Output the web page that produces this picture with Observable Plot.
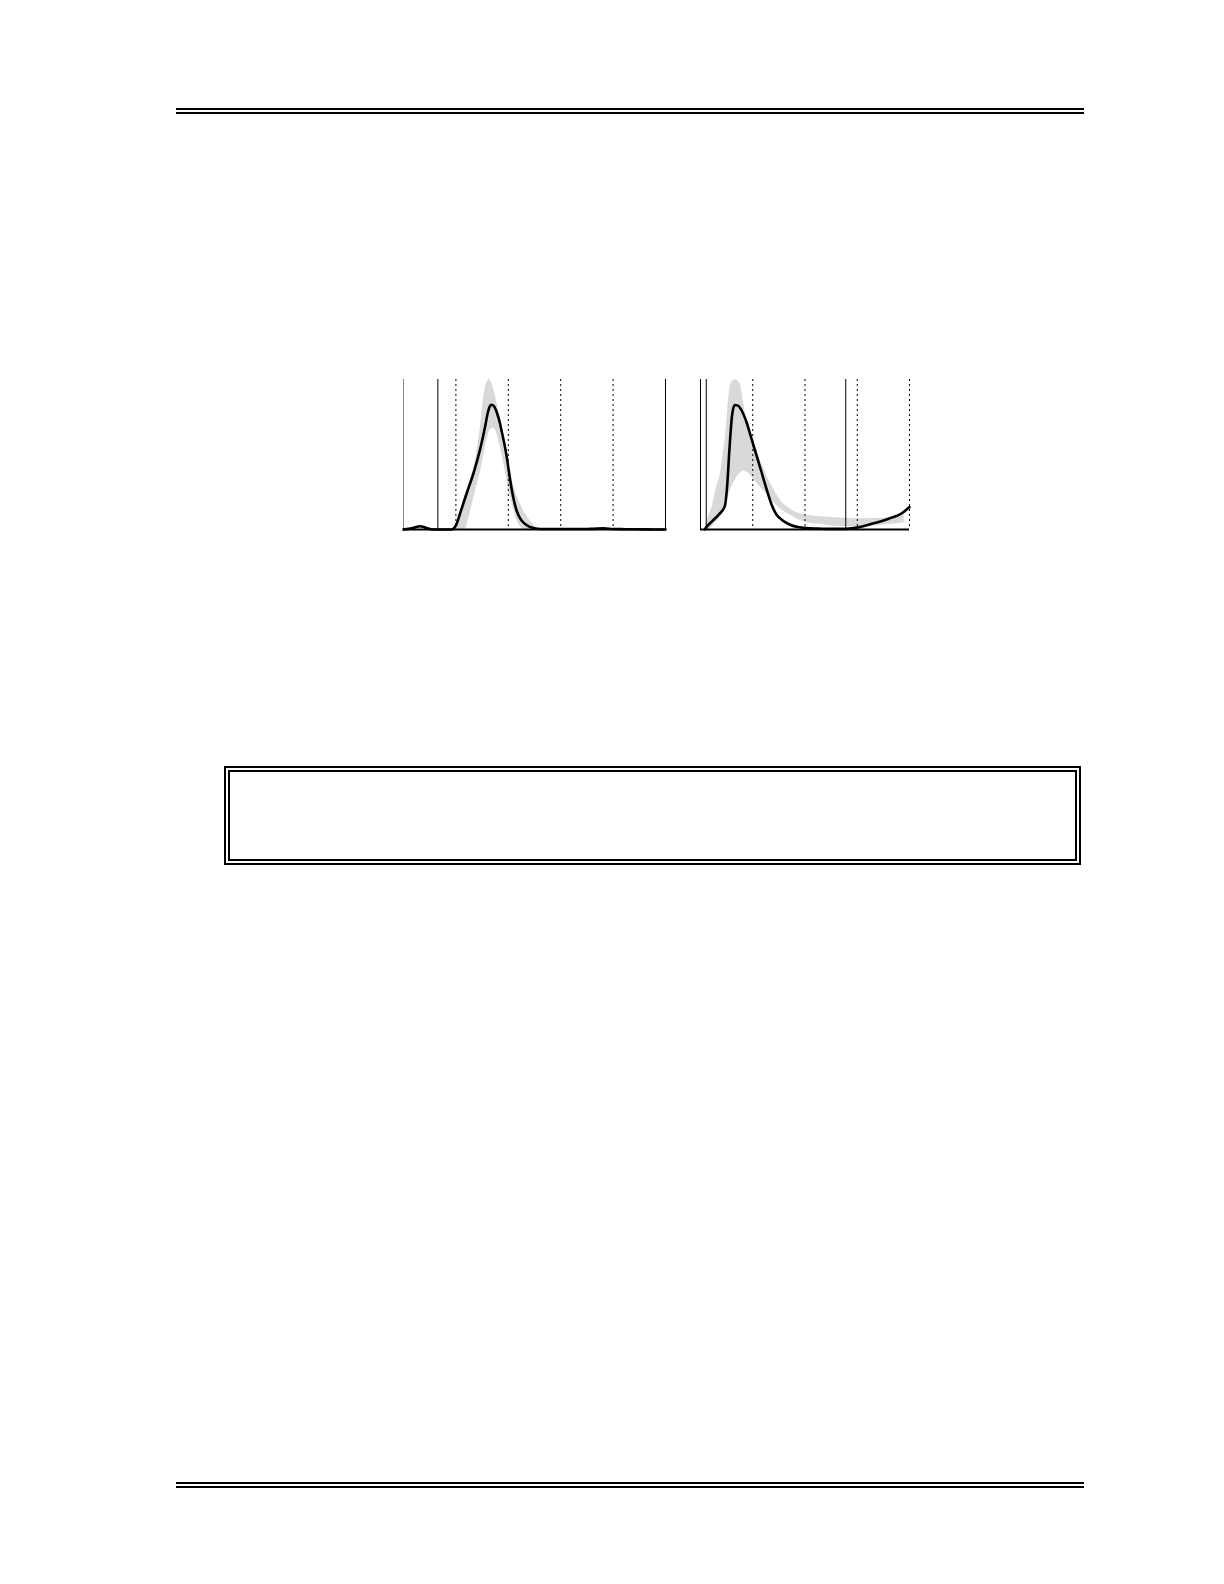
<!DOCTYPE html>
<html>
<head>
<meta charset="utf-8">
<script src="https://cdn.jsdelivr.net/npm/d3@7"></script>
<script src="https://cdn.jsdelivr.net/npm/@observablehq/plot@0.6"></script>
<style>
  html, body { margin: 0; padding: 0; background: #fff; }
  #page { position: relative; width: 1224px; height: 1584px; background: #fff; overflow: hidden; }
  .rule2 { position: absolute; left: 176px; width: 908px; height: 2px; box-sizing: content-box;
           border-top: 2px solid #000; border-bottom: 2px solid #000; }
  #box { position: absolute; left: 224px; top: 766px; width: 857px; height: 99px;
         box-sizing: border-box; border: 6px double #000; }
  .chart { position: absolute; }
</style>
</head>
<body>
<div id="page">
  <div class="rule2" style="top:108px"></div>
  <div id="chart1" class="chart" style="left:393px; top:373.5px"></div>
  <div id="chart2" class="chart" style="left:690px; top:373.5px"></div>
  <div id="box"></div>
  <div class="rule2" style="top:1482px"></div>
</div>
<script>
// ---------- Chart 1 (left panel) ----------
const c1LineX = [0, 5, 10, 16, 21, 26, 35, 45, 47, 50, 54.4, 60.7, 67, 73.3, 78, 80.5, 82, 83.5, 85.5, 88, 90, 92, 94, 96, 98, 100, 102, 104, 106, 108, 111, 115, 120, 126, 135, 160, 179, 191, 200, 211, 230, 250];
const c1LineY = [0, 0.004, 0.012, 0.022, 0.012, 0.002, 0, 0, 0.002, 0.027, 0.116, 0.25, 0.38, 0.54, 0.69, 0.78, 0.815, 0.832, 0.828, 0.80, 0.76, 0.71, 0.645, 0.58, 0.505, 0.415, 0.32, 0.24, 0.175, 0.125, 0.078, 0.042, 0.019, 0.007, 0.003, 0.003, 0.004, 0.008, 0.003, 0.002, 0.001, 0];
const c1BandX  = [46, 50, 55, 59, 61, 64, 67, 70, 73, 76, 79, 82, 85, 88, 91, 94, 97, 100, 103, 106, 109, 112, 115, 119, 123, 127, 130];
const c1BandLo = [0, 0, 0, 0, 0.04, 0.12, 0.21, 0.29, 0.37, 0.47, 0.58, 0.65, 0.675, 0.66, 0.59, 0.50, 0.39, 0.28, 0.19, 0.11, 0.05, 0.015, 0, 0, 0, 0, 0];
const c1BandHi = [0, 0.04, 0.13, 0.23, 0.27, 0.33, 0.40, 0.52, 0.66, 0.85, 0.97, 1.0, 0.96, 0.88, 0.78, 0.66, 0.55, 0.45, 0.35, 0.27, 0.21, 0.16, 0.12, 0.075, 0.04, 0.012, 0];
const c1Dotted = [50, 100, 150, 200];
const c1Solid  = [32.8, 250];
const c1Axis   = [0];
const c1Domain = [0, 250];

// ---------- Chart 2 (right panel) ----------
const c2LineX = [4, 5, 11.3, 17.6, 23.3, 25.5, 27.7, 30.2, 32.7, 35.8, 39.6, 44.3, 49, 53.8, 58.5, 63.2, 68, 72.6, 77.4, 85.2, 93, 101, 113, 125, 138, 148, 164, 180, 192, 200];
const c2LineY = [0, 0.01, 0.056, 0.10, 0.156, 0.29, 0.536, 0.76, 0.83, 0.826, 0.79, 0.71, 0.60, 0.49, 0.38, 0.27, 0.167, 0.10, 0.067, 0.033, 0.016, 0.009, 0.006, 0.004, 0.004, 0.011, 0.038, 0.072, 0.105, 0.15];
const c2BandX  = [4, 5, 8, 11.3, 15, 19.2, 22, 24, 26.4, 28.6, 31, 33.3, 36, 38, 41.2, 43.4, 46, 49, 55, 62, 70, 77, 85, 93, 102, 115, 130, 145, 160, 175, 190, 195];
const c2BandLo = [0, 0, 0, 0.02, 0.05, 0.08, 0.12, 0.15, 0.21, 0.26, 0.30, 0.33, 0.36, 0.375, 0.39, 0.385, 0.375, 0.35, 0.30, 0.246, 0.18, 0.134, 0.10, 0.067, 0.045, 0.035, 0.022, 0.02, 0.022, 0.03, 0.04, 0.045];
const c2BandHi = [0, 0.022, 0.09, 0.156, 0.27, 0.38, 0.52, 0.62, 0.826, 0.96, 0.99, 1.0, 0.99, 0.97, 0.85, 0.76, 0.70, 0.63, 0.50, 0.38, 0.27, 0.19, 0.14, 0.11, 0.095, 0.085, 0.078, 0.072, 0.072, 0.075, 0.09, 0.095];
const c2Dotted = [50, 100, 150, 200];
const c2Solid  = [5.5, 139];
const c2Axis   = [0];
const c2Domain = [0, 200];

const bandFill = "#d9d9d9";

function panel({lineX, lineY, bandX, bandLo, bandHi, dotted, solid, axis, axisColor, domain, width}) {
  const line = lineX.map((x, i) => ({x, y: lineY[i]}));
  const band = bandX.map((x, i) => ({x, lo: bandLo[i], hi: bandHi[i]}));
  return Plot.plot({
    width,
    height: 160,
    marginLeft: 10, marginRight: 10, marginTop: 5, marginBottom: 5,
    style: {background: "transparent", overflow: "visible"},
    x: {domain, axis: null},
    y: {domain: [0, 1], axis: null},
    marks: [
      Plot.areaY(band, {x: "x", y1: "lo", y2: "hi", fill: bandFill, curve: "monotone-x"}),
      Plot.ruleX(dotted, {stroke: "#000", strokeWidth: 1, strokeDasharray: "2,3"}),
      Plot.ruleX(solid, {stroke: "#000", strokeWidth: 1}),
      Plot.ruleX(axis, {stroke: axisColor, strokeWidth: 1}),
      Plot.lineY(line, {x: "x", y: "y", stroke: "#000", strokeWidth: 2.6, curve: "monotone-x"}),
      Plot.ruleY([0], {stroke: "#000", strokeWidth: 2})
    ]
  });
}

document.getElementById("chart1").appendChild(panel({
  lineX: c1LineX, lineY: c1LineY, bandX: c1BandX, bandLo: c1BandLo, bandHi: c1BandHi,
  dotted: c1Dotted, solid: c1Solid, axis: c1Axis, axisColor: "#888", domain: c1Domain, width: 282
}));
document.getElementById("chart2").appendChild(panel({
  lineX: c2LineX, lineY: c2LineY, bandX: c2BandX, bandLo: c2BandLo, bandHi: c2BandHi,
  dotted: c2Dotted, solid: c2Solid, axis: c2Axis, axisColor: "#000", domain: c2Domain, width: 229
}));
</script>
</body>
</html>
